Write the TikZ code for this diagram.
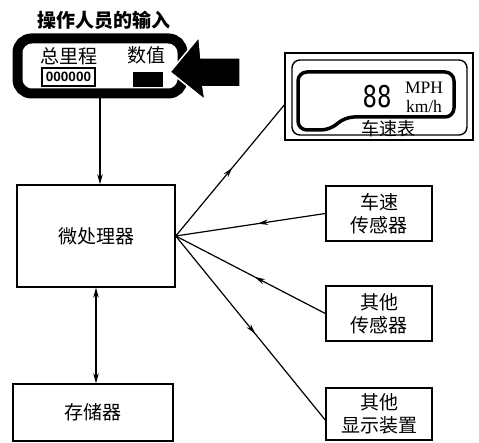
\documentclass[tikz,border=0pt]{standalone}
\usepackage{fontspec}
\setmainfont{Noto Sans CJK SC}
\newfontfamily\serif{Liberation Serif}
\newfontfamily\digits{DejaVu Sans Mono}
\newfontfamily\lat{Liberation Sans}
\usetikzlibrary{arrows.meta,decorations.markings}
\tikzset{
 blk/.style={draw, line width=1.5pt, inner sep=0pt, font=\fontsize{19}{23}\selectfont, align=center},
 cn/.style={inner sep=0pt, font=\fontsize{19}{23}\selectfont},
 conn/.style={line width=1.2pt},
 tip/.style={-{Stealth[length=10pt,width=5.5pt]}},
 dtip/.style={{Stealth[length=10pt,width=5.5pt]}-{Stealth[length=10pt,width=5.5pt]}},
 midarrow/.style={postaction={decorate}, decoration={markings, mark=at position #1 with {\arrow{Stealth[length=10pt,width=5.5pt]}}}}
}
\begin{document}
\begin{tikzpicture}[x=1pt,y=-1pt]
\useasboundingbox (0,0) rectangle (479,443);
% operator input panel
\node[cn, font=\bfseries\fontsize{19}{23}\selectfont] (title) at (104,20) {操作人员的输入};
\node[draw, line width=10pt, rounded corners=14pt, minimum width=165pt, minimum height=55pt, inner sep=0pt] (panel) at (100,66) {};
\node[cn] (odl) at (69,56) {总里程};
\node[cn] (vall) at (146,55) {数值};
\node[draw, line width=1.6pt, minimum width=53pt, minimum height=18pt, inner sep=0pt, font=\lat\bfseries\fontsize{13.5}{14}\selectfont] (odo) at (68.5,77) {000000};
\node[fill=black, minimum width=30pt, minimum height=15pt, inner sep=0pt] (val) at (148,79.5) {};
\filldraw[fill=black, draw=white, line width=1.5pt] (170,72) -- (199,37) -- (201,58) -- (240,58) -- (240,87) -- (203,87) -- (205,100) -- cycle;
% blocks
\node[blk, minimum width=158pt, minimum height=102pt] (micro) at (96,236) {微处理器};
\node[blk, minimum width=160pt, minimum height=57pt] (mem) at (93,412.5) {存储器};
\node[blk, minimum width=106pt, minimum height=55pt] (vss) at (379,213.5) {车速\\传感器};
\node[blk, minimum width=106pt, minimum height=55pt] (oss) at (379,313.5) {其他\\传感器};
\node[blk, minimum width=106pt, minimum height=52pt] (disp) at (379,414) {其他\\显示装置};
% speedometer
\node[draw, line width=1.5pt, minimum width=188pt, minimum height=87pt, inner sep=0pt] (speedo) at (379,96.5) {};
\draw[line width=1.4pt, rounded corners=8pt] (292,60) rectangle (467,135);
\draw[line width=3.5pt, rounded corners=9pt] (298,72) -- (454,72) -- (454,117) -- (345,117) -- (330,130) -- (298,130) -- cycle;
\node[inner sep=0pt, font=\digits\fontsize{30}{30}\selectfont, xscale=0.8] (dig) at (377,97) {88};
\node[inner sep=0pt, font=\serif\fontsize{17.5}{19}\selectfont, align=center] (unit) at (424,97.5) {MPH\\km/h};
\node[cn, font=\fontsize{18}{20}\selectfont] (splab) at (388,129) {车速表};
% connectors
\draw[conn, tip] (panel.south) -- (panel.south |- micro.north);
\draw[conn, dtip] (micro.south) -- (micro.south |- mem.north);
\draw[conn, midarrow=0.52] (micro.east) -- ([yshift=-8.5pt]speedo.west);
\draw[conn, midarrow=0.45] (vss.west) -- (micro.east);
\draw[conn, midarrow=0.47] (oss.west) -- (micro.east);
\draw[conn, midarrow=0.53] (micro.east) -- ([yshift=-6pt]disp.west);
\end{tikzpicture}
\end{document}
